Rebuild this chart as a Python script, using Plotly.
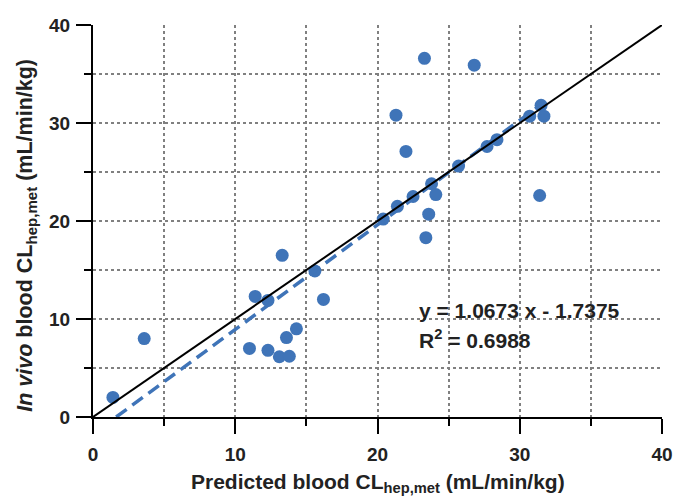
import plotly.graph_objects as go

# Data
predicted = [1.4, 3.6, 11.0, 11.4, 12.3, 12.3, 13.1, 13.8, 13.6, 14.3, 13.3, 15.6, 16.2,
             20.4, 21.4, 22.5, 23.8, 23.6, 23.4, 24.1, 21.3, 22.0, 23.3, 26.8, 25.7,
             27.7, 28.4, 30.7, 31.5, 31.7, 31.4]
in_vivo = [2.0, 8.0, 7.0, 12.3, 11.9, 6.8, 6.15, 6.2, 8.1, 9.0, 16.5, 14.9, 12.0,
           20.2, 21.5, 22.5, 23.8, 20.7, 18.3, 22.7, 30.8, 27.1, 36.6, 35.9, 25.6,
           27.6, 28.3, 30.7, 31.8, 30.7, 22.6]
slope = 1.0673
intercept = -1.7375
r_squared = 0.6988
axis_range = [0, 40]
tick_vals = [0, 10, 20, 30, 40]
x_title = "Predicted blood CL<sub>hep,met</sub> (mL/min/kg)"
y_title = "<i>In vivo</i> blood CL<sub>hep,met</sub> (mL/min/kg)"

FONT = "Arial, Liberation Sans, sans-serif"
BLUE = "#3f74b8"
GRID = "#808080"
TXT = "#222222"

fig = go.Figure()

# data points (drawn first, lines go on top as in the reference)
fig.add_trace(go.Scatter(x=predicted, y=in_vivo, mode="markers",
                         marker=dict(color=BLUE, size=13, line=dict(width=0))))

# regression line
x_start = -intercept / slope
x_end = max(predicted)
fig.add_trace(go.Scatter(x=[x_start, x_end],
                         y=[slope * x_start + intercept, slope * x_end + intercept],
                         mode="lines", line=dict(color=BLUE, width=3.5, dash="13px,7px")))

# identity line
fig.add_trace(go.Scatter(x=axis_range, y=axis_range, mode="lines",
                         line=dict(color="black", width=2), hoverinfo="skip"))

fig.add_annotation(x=22.8, y=10.9, xref="x", yref="y", xanchor="left", yanchor="middle",
                   text=f"y = {slope:.4f} x - {abs(intercept):.4f}", showarrow=False,
                   font=dict(family=FONT, size=21, color=TXT, weight="bold"))
fig.add_annotation(x=22.8, y=8.0, xref="x", yref="y", xanchor="left", yanchor="middle",
                   text=f"R<sup>2</sup> = {r_squared:.4f}", showarrow=False,
                   font=dict(family=FONT, size=21, color=TXT, weight="bold"))

# axis titles
fig.add_annotation(x=0.5, y=-0.168, xref="paper", yref="paper", xanchor="center",
                   yanchor="middle", text=x_title, showarrow=False,
                   font=dict(family=FONT, size=21, color=TXT, weight="bold"))
fig.add_annotation(x=-0.116, y=0.465, xref="paper", yref="paper", xanchor="center",
                   yanchor="middle", text=y_title, showarrow=False, textangle=-90,
                   font=dict(family=FONT, size=21.5, color=TXT, weight="bold"))

axis_common = dict(
    range=axis_range, tickvals=tick_vals, showline=True, linecolor="black", linewidth=2,
    ticks="outside", ticklen=15, tickwidth=2, tickcolor="black",
    showgrid=True, gridcolor=GRID, griddash="dot", gridwidth=1.5,
    zeroline=False, automargin=False,
    tickfont=dict(family=FONT, size=19, color=TXT, weight="bold"),
    minor=dict(dtick=5, tick0=0, ticks="outside", ticklen=7, tickwidth=2, tickcolor="black",
               showgrid=True, gridcolor=GRID, griddash="dot", gridwidth=1.5),
)

fig.update_layout(
    width=674, height=496, showlegend=False,
    margin=dict(l=93, r=12, t=25, b=79),
    paper_bgcolor="white", plot_bgcolor="white",
    font=dict(family=FONT, color=TXT),
    xaxis=dict(**axis_common, ticklabelstandoff=4),
    yaxis=dict(**axis_common, ticklabelstandoff=2),
)

fig.write_html("out.html")
